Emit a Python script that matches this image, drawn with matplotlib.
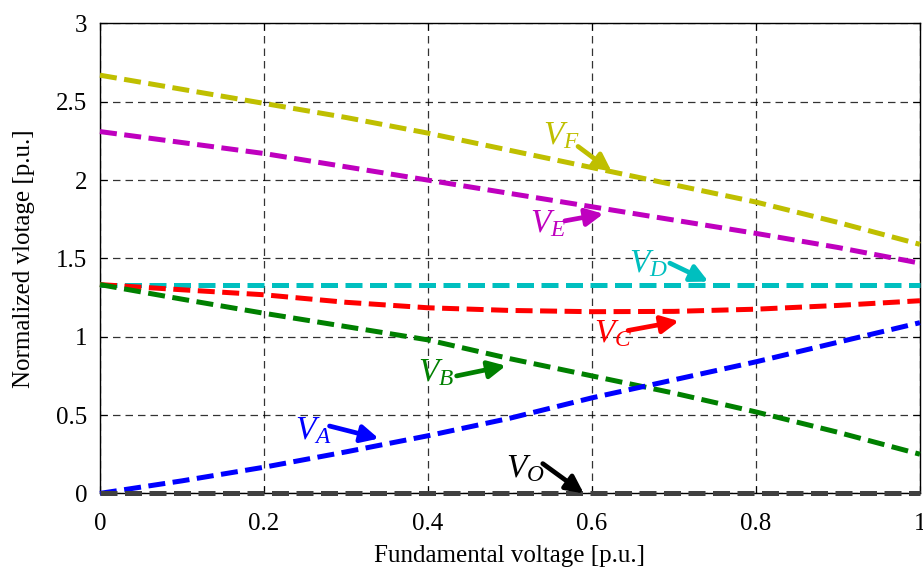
import matplotlib
matplotlib.use("Agg")
import matplotlib.pyplot as plt
from matplotlib.patches import FancyArrowPatch

plt.rcParams["font.family"] = ["Liberation Serif", "DejaVu Serif"]
plt.rcParams["mathtext.fontset"] = "custom"
plt.rcParams["mathtext.it"] = "Liberation Serif:italic"
plt.rcParams["mathtext.rm"] = "Liberation Serif"

# Fundamental voltage (p.u.)
x = [0.0, 0.1, 0.2, 0.3, 0.4, 0.5, 0.6, 0.7, 0.8, 0.9, 1.0]

# Normalized voltages of each vector group (p.u.)
v_f = [2.67, 2.58, 2.49, 2.40, 2.30, 2.19, 2.08, 1.97, 1.86, 1.73, 1.59]
v_e = [2.31, 2.24, 2.17, 2.085, 2.00, 1.915, 1.83, 1.745, 1.66, 1.57, 1.47]
v_d = [1.333, 1.333, 1.333, 1.333, 1.333, 1.333, 1.333, 1.333, 1.333, 1.333, 1.333]
v_c = [1.333, 1.30, 1.268, 1.22, 1.185, 1.168, 1.16, 1.162, 1.176, 1.20, 1.23]
v_b = [1.333, 1.24, 1.15, 1.065, 0.98, 0.86, 0.75, 0.64, 0.52, 0.39, 0.25]
v_a = [0.0, 0.08, 0.167, 0.265, 0.368, 0.48, 0.61, 0.725, 0.84, 0.965, 1.09]
v_o = [0.0] * len(x)

x_ticks = [0, 0.2, 0.4, 0.6, 0.8, 1]
x_tick_labels = ["0", "0.2", "0.4", "0.6", "0.8", "1"]
y_ticks = [0, 0.5, 1, 1.5, 2, 2.5, 3]
y_tick_labels = ["0", "0.5", "1", "1.5", "2", "2.5", "3"]

series = [
    (v_f, "#bfbf00", r"$V_F$", (0.563, 2.28), (0.583, 2.215), (0.624, 2.055)),
    (v_e, "#bf00bf", r"$V_E$", (0.547, 1.72), (0.567, 1.74), (0.614, 1.785)),
    (v_d, "#00bfbf", r"$V_D$", (0.669, 1.465), (0.695, 1.47), (0.742, 1.352)),
    (v_c, "#ff0000", r"$V_C$", (0.626, 1.02), (0.644, 1.04), (0.706, 1.10)),
    (v_b, "#008000", r"$V_B$", (0.410, 0.77), (0.435, 0.75), (0.495, 0.815)),
    (v_a, "#0000ff", r"$V_A$", (0.260, 0.40), (0.280, 0.43), (0.340, 0.35)),
    (v_o, "#404040", r"$V_O$", (0.519, 0.16), (0.540, 0.19), (0.590, 0.0)),
]

fig = plt.figure(figsize=(9.23, 5.69), dpi=100)
ax = fig.add_axes([0.1083, 0.1329, 0.8884, 0.8258])

for vals, color, label, txt, tail, tip in series:
    ax.plot(x, vals, color=color, lw=3.6, dashes=(3.4, 1.5),
            dash_capstyle="butt", clip_on=False, zorder=3)

for vals, color, label, txt, tail, tip in series:
    tcolor = "black" if color == "#404040" else color
    ax.text(txt[0], txt[1], label, color=tcolor, fontsize=24, ha="center", va="center",
            zorder=5)
    arr = FancyArrowPatch(tail, tip, arrowstyle="-|>", mutation_scale=26, lw=3.4,
                          color=tcolor, shrinkA=0, shrinkB=0, zorder=5)
    ax.add_patch(arr)

ax.set_xlim(0, 1)
ax.set_ylim(0, 3)
ax.set_xticks(x_ticks)
ax.set_xticklabels(x_tick_labels)
ax.set_yticks(y_ticks)
ax.set_yticklabels(y_tick_labels)
ax.tick_params(axis="both", direction="in", length=5, width=0.8, labelsize=18,
               top=True, right=True)
ax.tick_params(axis="x", pad=14)
ax.tick_params(axis="y", pad=9)
ax.grid(True, color="black", lw=0.9, linestyle=(0, (6, 4)), alpha=0.8)
for s in ax.spines.values():
    s.set_linewidth(1.0)
    s.set_color("black")

ax.set_xlabel("Fundamental voltage [p.u.]", fontsize=18, labelpad=7)
ax.set_ylabel("Normalized vlotage [p.u.]", fontsize=18, labelpad=15)

fig.savefig("out.png", dpi=100)
